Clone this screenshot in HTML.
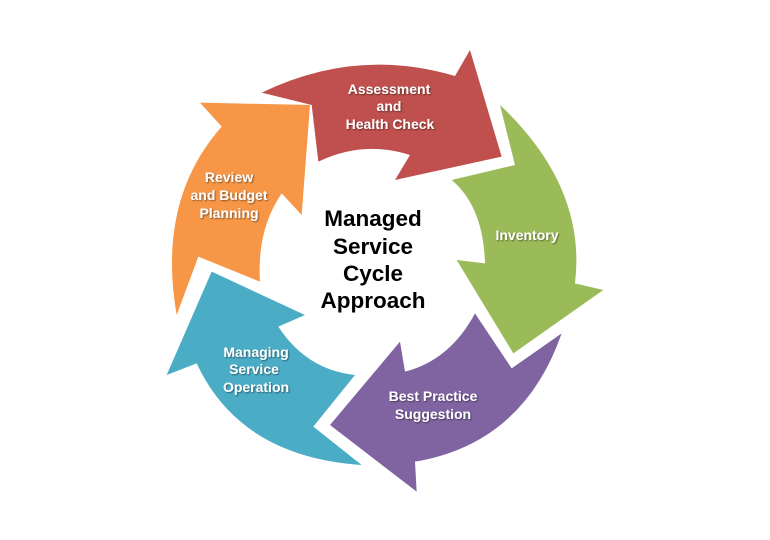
<!DOCTYPE html>
<html><head><style>
html,body{margin:0;padding:0;background:#fff;}
svg{display:block;}
.w{font-family:"Liberation Sans",sans-serif;font-weight:bold;font-size:14px;fill:#fff;text-anchor:middle;}
.c{font-family:"Liberation Sans",sans-serif;font-weight:bold;font-size:22.5px;fill:#000;text-anchor:middle;}
</style></head><body>
<svg width="770" height="540" viewBox="0 0 770 540">
<defs><filter id="s" x="-10%" y="-10%" width="120%" height="130%"><feDropShadow dx="1" dy="1" stdDeviation="0.8" flood-color="#000" flood-opacity="0.45"/></filter></defs>
<g transform="translate(150,40) scale(0.33333)">
<path fill="#C0504D" d="M335,158 Q620,20 915,108 L960,30 L1055,350 L735,420 L780,345 Q640,300 505,365 L485,195 Z"/>
<path fill="#F79646" d="M150,188 L480,195 L455,525 L395,460 Q320,570 330,725 L145,650 L80,825 Q20,480 215,260 Z"/>
<path fill="#4BACC6" d="M50,1005 L185,695 L465,825 L385,860 Q470,990 615,1005 L490,1160 L635,1275 Q270,1250 140,970 Z"/>
<path fill="#8064A2" d="M765,995 Q900,960 975,820 L1085,985 L1235,880 Q1120,1210 795,1265 L800,1355 L540,1155 L750,905 Z"/>
<path fill="#9BBB59" d="M1050,195 Q1310,440 1275,730 L1360,750 L1090,940 L920,660 L1005,670 Q1000,500 905,420 L1095,375 Z"/>
</g>
<g filter="url(#s)">
<text class="w" x="389" y="94">Assessment</text>
<text class="w" x="389" y="111">and</text>
<text class="w" x="390" y="129">Health Check</text>
<text class="w" x="527" y="240">Inventory</text>
<text class="w" x="433" y="401">Best Practice</text>
<text class="w" x="433" y="419">Suggestion</text>
<text class="w" x="256" y="357">Managing</text>
<text class="w" x="254" y="374">Service</text>
<text class="w" x="256" y="392">Operation</text>
<text class="w" x="229" y="182">Review</text>
<text class="w" x="229" y="200">and Budget</text>
<text class="w" x="229" y="218">Planning</text>
</g>
<text class="c" x="373" y="226">Managed</text>
<text class="c" x="373" y="254">Service</text>
<text class="c" x="373" y="281">Cycle</text>
<text class="c" x="373" y="308">Approach</text>
</svg>
</body></html>
